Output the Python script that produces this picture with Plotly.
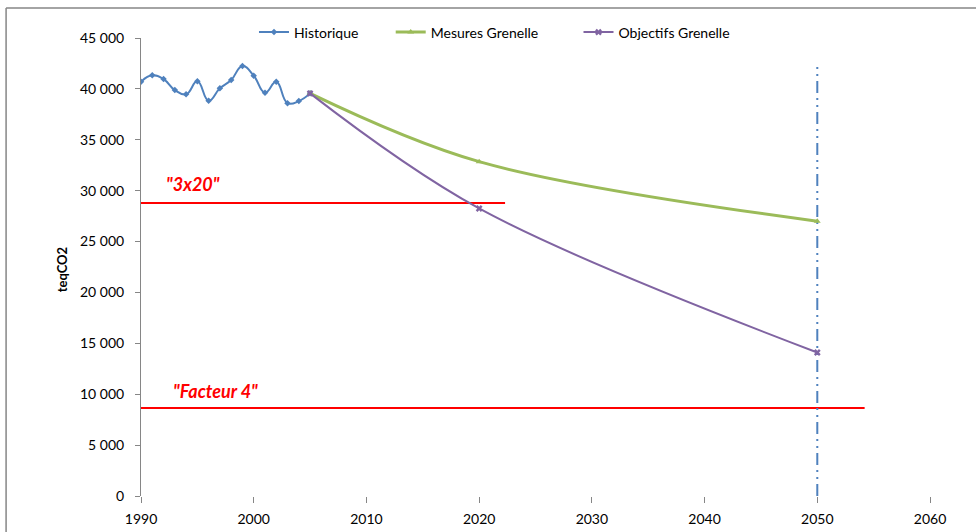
import plotly.graph_objects as go

# ---- data ----
hist_years = [1990, 1991, 1992, 1993, 1994, 1995, 1996, 1997, 1998, 1999,
              2000, 2001, 2002, 2003, 2004, 2005]
hist_values = [40700, 41330, 40970, 39890, 39470, 40740, 38840, 40060, 40870, 42250,
               41300, 39620, 40700, 38600, 38800, 39560]

mesures_years = [2005, 2020, 2050]
mesures_values = [39560, 32850, 27000]

objectifs_years = [2005, 2020, 2050]
objectifs_values = [39560, 28250, 14100]

target_3x20_years = [1990, 2022.3]
target_3x20_values = [28790, 28790]

target_f4_years = [1990, 2054.2]
target_f4_values = [8650, 8650]

horizon_years = [2050, 2050]
horizon_values = [0, 42150]

label_texts = ['"3x20"', '"Facteur 4"']
label_x = [1994.6, 1996.6]
label_y = [30650, 10300]

x_ticks = [1990, 2000, 2010, 2020, 2030, 2040, 2050, 2060]
y_ticks = [0, 5000, 10000, 15000, 20000, 25000, 30000, 35000, 40000, 45000]

BLUE = "#4F81BD"
GREEN = "#9BBB59"
PURPLE = "#8064A2"
RED = "#FF0000"
FONT = "Lato"

fig = go.Figure()

fig.add_trace(go.Scatter(
    x=target_3x20_years, y=target_3x20_values, mode="lines",
    line=dict(color=RED, width=2), showlegend=False, hoverinfo="skip"))
fig.add_trace(go.Scatter(
    x=target_f4_years, y=target_f4_values, mode="lines",
    line=dict(color=RED, width=2), showlegend=False, hoverinfo="skip"))
fig.add_trace(go.Scatter(
    x=horizon_years, y=horizon_values, mode="lines",
    line=dict(color=BLUE, width=2, dash="12px,5px,2px,5px,2px,5px"),
    showlegend=False, hoverinfo="skip"))

fig.add_trace(go.Scatter(
    x=hist_years, y=hist_values, name="Historique", mode="lines+markers",
    line=dict(color=BLUE, width=2, shape="spline", smoothing=1.3),
    marker=dict(color=BLUE, size=5, symbol="diamond"), legend="legend"))
fig.add_trace(go.Scatter(
    x=mesures_years, y=mesures_values, name="Mesures Grenelle", mode="lines+markers",
    line=dict(color=GREEN, width=3, shape="spline", smoothing=1),
    marker=dict(color=GREEN, size=6, symbol="triangle-up"), legend="legend2"))
fig.add_trace(go.Scatter(
    x=objectifs_years, y=objectifs_values, name="Objectifs Grenelle", mode="lines+markers",
    line=dict(color=PURPLE, width=2, shape="spline", smoothing=1),
    marker=dict(color=PURPLE, size=6, symbol="x"), legend="legend3"))

for t, xv, yv in zip(label_texts, label_x, label_y):
    fig.add_annotation(x=xv, y=yv, text="<b><i>" + t + "</i></b>", showarrow=False,
                       font=dict(family=FONT, size=18, color=RED),
                       xanchor="center", yanchor="middle")

fig.add_annotation(x=-0.1, y=0.493, xref="paper", yref="paper", text="<b>teqCO2</b>",
                   textangle=-90, showarrow=False, xanchor="center", yanchor="middle",
                   font=dict(family=FONT, size=13, color="#000000"))

fig.add_shape(type="line", xref="paper", yref="paper",
              x0=-0.171, y0=-0.2, x1=-0.171, y1=1.0655,
              line=dict(color="#868686", width=1.5))
fig.add_shape(type="line", xref="paper", yref="paper",
              x0=-0.171, y0=1.0655, x1=1.2, y1=1.0655,
              line=dict(color="#868686", width=1.5))

leg_common = dict(orientation="h", y=1.012, xanchor="left", yanchor="middle",
                  font=dict(family=FONT, size=14), bgcolor="rgba(0,0,0,0)",
                  itemwidth=30)

fig.update_layout(
    width=976, height=532,
    margin=dict(l=141, r=46, t=38, b=36, autoexpand=False),
    paper_bgcolor="white", plot_bgcolor="white",
    separators=", ",
    font=dict(family=FONT, size=14, color="#000000"),
    showlegend=True,
    legend=dict(x=0.1432, **leg_common),
    legend2=dict(x=0.3165, **leg_common),
    legend3=dict(x=0.5545, **leg_common),
    xaxis=dict(range=[1990, 2060], tickvals=x_ticks, showgrid=False, zeroline=False,
               showline=False, ticks="outside", ticklen=6, tickcolor="#868686",
               ticklabelstandoff=4, tickfont=dict(family=FONT, size=14)),
    yaxis=dict(range=[0, 45000], tickvals=y_ticks, tickformat=",d", showgrid=False,
               zeroline=False, showline=True, linecolor="#868686", linewidth=1,
               ticks="outside", ticklen=5, tickcolor="#868686",
               ticklabelstandoff=8, tickfont=dict(family=FONT, size=14)),
)

fig.write_html("out.html", config={"displayModeBar": False},
               post_script="document.body.style.margin='0';document.body.style.overflow='hidden';")
